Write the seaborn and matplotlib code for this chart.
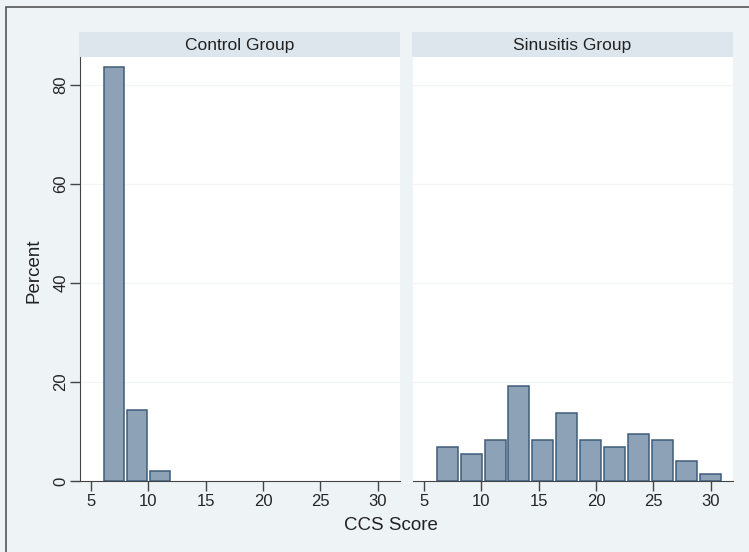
import numpy as np
import pandas as pd
import matplotlib
matplotlib.use("Agg")
import matplotlib.pyplot as plt
import seaborn as sns

# Daten: Histogramm-Klassen und Prozentwerte je Gruppe
gruppen = ["Control Group", "Sinusitis Group"]

control_edges = [6, 8, 10, 12]
control_pct = [83.7, 14.3, 2.0]

sinus_edges = [6, 8.08, 10.17, 12.25, 14.33, 16.42, 18.5,
               20.58, 22.67, 24.75, 26.83, 28.92, 31]
sinus_pct = [6.85, 5.48, 8.22, 19.18, 8.22, 13.70,
             8.22, 6.85, 9.59, 8.22, 4.11, 1.37]

y_ticks = [0, 20, 40, 60, 80]
x_ticks = [5, 10, 15, 20, 25, 30]

sns.set_style("white")
plt.rcParams["font.family"] = ["Liberation Sans", "DejaVu Sans"]

bg = "#eef3f6"
strip_col = "#dde6ec"
bar_fill = "#8da1b7"
bar_edge = "#3e5c7a"
grid_col = "#f3f5f7"

W, H = 749, 552
fig = plt.figure(figsize=(W / 100, H / 100), dpi=100)
fig.patch.set_facecolor(bg)

# Rahmen (nur oben und links sichtbar)
fig.add_artist(plt.Rectangle((6 / W, -0.01), 760 / W, (H - 7) / H + 0.01,
                             transform=fig.transFigure, fill=False,
                             edgecolor="#555555", linewidth=1.2))

bottom = (H - 481) / H
top = (H - 57) / H
panels = [(80, 400), (413, 733)]
daten = [(control_edges, control_pct), (sinus_edges, sinus_pct)]

for i, ((x0, x1), (edges, pct), name) in enumerate(zip(panels, daten, gruppen)):
    ax = fig.add_axes([x0 / W, bottom, (x1 - x0) / W, top - bottom])
    ax.set_facecolor("white")
    mitten = [(a + b) / 2 for a, b in zip(edges[:-1], edges[1:])]
    df = pd.DataFrame({"score": mitten, "percent": pct})
    sns.histplot(data=df, x="score", weights="percent", bins=edges,
                 shrink=0.88, color=bar_fill, edgecolor=bar_edge,
                 linewidth=1.1, alpha=1, ax=ax, zorder=3)
    ax.set_xlim(4.05, 31.95)
    ax.set_ylim(0, 85.7)
    ax.set_xticks(x_ticks)
    ax.set_yticks(y_ticks)
    for yv in y_ticks[1:]:
        ax.axhline(yv, color=grid_col, linewidth=1, zorder=1)
    ax.set_xlabel("")
    ax.set_ylabel("")
    for s in ["top", "right"]:
        ax.spines[s].set_visible(False)
    ax.spines["bottom"].set_color("#444444")
    ax.spines["left"].set_color("#444444")
    ax.tick_params(axis="x", length=7, width=1, color="#444444",
                   labelsize=12, pad=2, bottom=True)
    if i == 0:
        ax.tick_params(axis="y", length=7, width=1, color="#444444",
                       labelsize=12, pad=1.5, left=True)
        for lab in ax.get_yticklabels():
            lab.set_rotation(90)
            lab.set_va("center")
    else:
        ax.spines["left"].set_visible(False)
        ax.tick_params(axis="y", left=False, labelleft=False)

    # Kopfzeile der Facette
    sax = fig.add_axes([(x0 - 1) / W, top, (x1 - x0 + 1) / W, 25 / H])
    sax.set_facecolor(strip_col)
    sax.set_xticks([])
    sax.set_yticks([])
    for s in sax.spines.values():
        s.set_visible(False)
    sax.text(0.5, 0.47, name, ha="center", va="center", fontsize=12.5,
             color="#222222", transform=sax.transAxes)

fig.text(391 / W, 1 - 525 / H, "CCS Score", ha="center", va="center",
         fontsize=13.5, color="#222222")
fig.text(33.5 / W, 1 - 271 / H, "Percent", ha="center", va="center",
         rotation=90, fontsize=13.5, color="#222222")

fig.savefig("out.png", dpi=100, facecolor=bg)
